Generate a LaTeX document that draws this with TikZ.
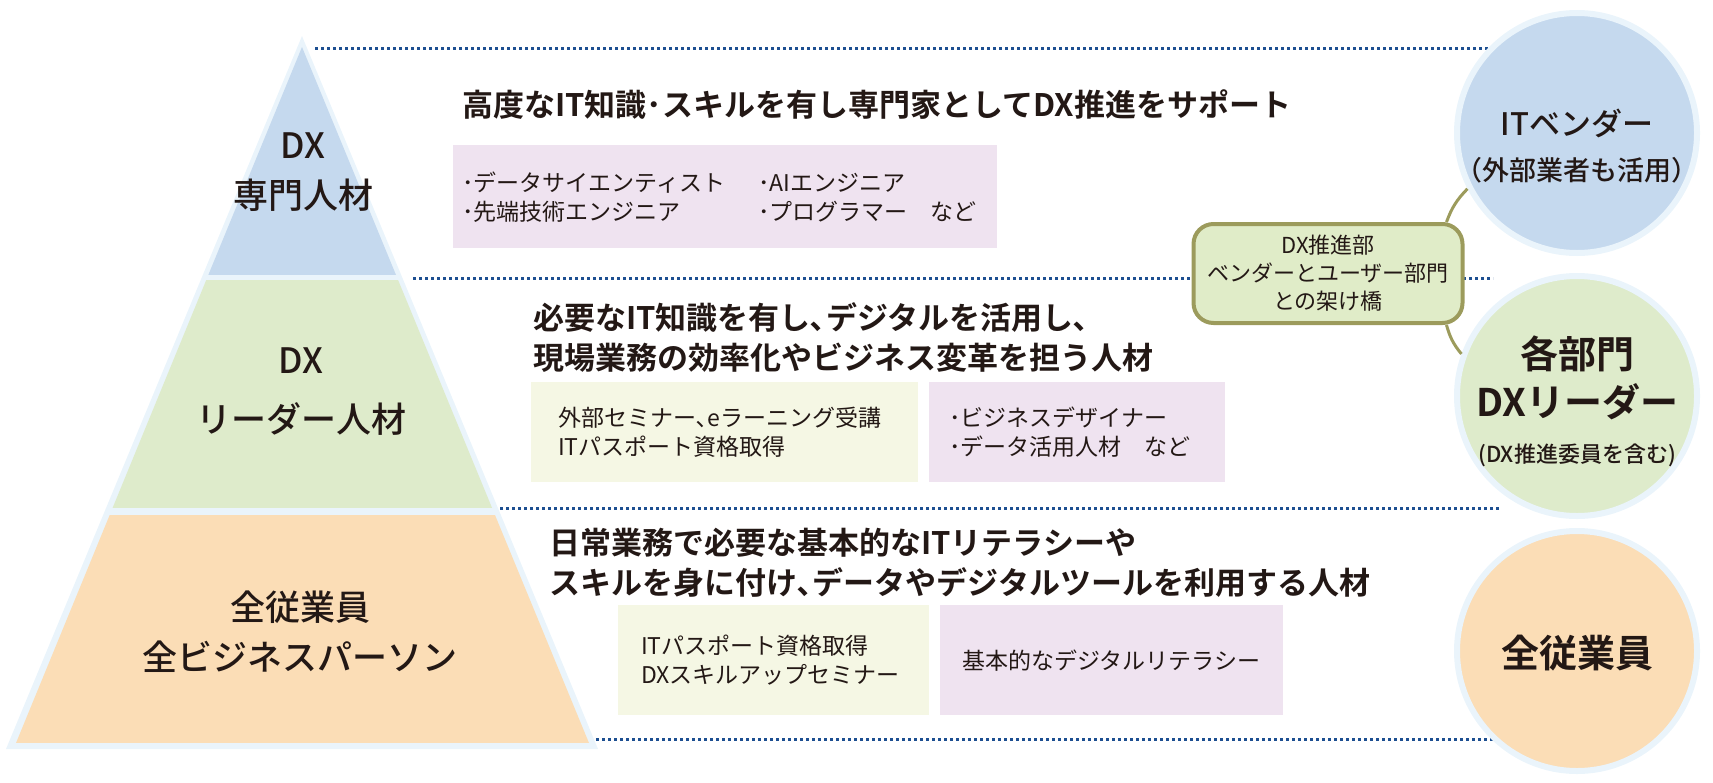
\documentclass[tikz,border=0pt]{standalone}
\usepackage{fontspec}
\setmainfont{Noto Sans CJK JP}[BoldFont={* Bold}]
\newfontfamily\jpmedium{Noto Sans CJK JP Medium}
\usetikzlibrary{positioning}

\definecolor{ink}{HTML}{231815}
\definecolor{halo}{HTML}{EAF4FB}
\definecolor{tierblue}{HTML}{C5D9EE}
\definecolor{tiergreen}{HTML}{DEEBCB}
\definecolor{tierorange}{HTML}{FBDDB6}
\definecolor{boxpink}{HTML}{EFE3F0}
\definecolor{boxlime}{HTML}{F5F7E4}
\definecolor{guideblue}{HTML}{1D4F91}
\definecolor{olive}{HTML}{9C9B5C}
\definecolor{bridgefill}{HTML}{E0ECC8}

\tikzset{
  guide/.style={draw=guideblue, line width=3pt, dash pattern=on 3.4pt off 2.6pt},
  tierlabel/.style={font=\jpmedium\fontsize{35}{50}\selectfont, align=center, inner sep=0pt},
  headline/.style={font=\bfseries\fontsize{31}{40}\selectfont, align=left, anchor=west, inner sep=0pt},
  itembox/.style={fill=#1, anchor=north west, inner sep=0pt},
  itemtext/.style={font=\fontsize{23}{29}\selectfont, align=left, anchor=west, inner sep=0pt},
  rolecircle/.style={circle, fill=#1, draw=halo, line width=6pt, minimum size=240pt, inner sep=0pt},
  roletext/.style={inner sep=0pt, align=center},
  bridgebox/.style={draw=olive, fill=bridgefill, line width=4pt, rounded corners=20pt,
    minimum width=269pt, minimum height=99pt, align=center, font=\fontsize{22}{28}\selectfont},
  bridgelink/.style={draw=olive, line width=3pt},
}

\begin{document}
\begin{tikzpicture}[x=1pt, y=-1pt, every node/.style={text=ink}]
\useasboundingbox (0,0) rectangle (1713,782);

% linee guida
\foreach \xs/\xe/\y in {315/1491/48, 413/1493/278, 500/1500/508, 596/1495/739}
  \draw[guide] (\xs,\y) -- (\xe,\y);

% piramide
\coordinate (apex) at (302,47);
\coordinate (baseL) at (16,743);
\coordinate (baseR) at (589,743);
\fill[halo] (302,36) -- (6,749) -- (598,749) -- cycle;
\begin{scope}
  \clip (apex) -- (baseL) -- (baseR) -- cycle;
  \fill[tierblue] (0,40) rectangle (600,275);
  \fill[tiergreen] (0,280) rectangle (600,508);
  \fill[tierorange] (0,515) rectangle (600,743);
\end{scope}

\node[tierlabel] (expert) at (303,172) {DX\\専門人材};
\node[tierlabel] (leadtier) at (301,392) {DX\\[9pt]リーダー人材};
\node[tierlabel] (alltier) at (300,632) {全従業員\\全ビジネスパーソン};

% testi principali
\node[headline] (experthead) at (462,105) {高度なIT知識･スキルを有し専門家としてDX推進をサポート};
\node[headline] (leadhead) at (533,338) {必要なIT知識を有し､デジタルを活用し､\\現場業務の効率化やビジネス変革を担う人材};
\node[headline] (allhead) at (549,563) {日常業務で必要な基本的なITリテラシーや\\スキルを身に付け､データやデジタルツールを利用する人材};

% riquadri
\node[itembox=boxpink, minimum width=544pt, minimum height=103pt] (expertjobs) at (453,145) {};
\node[itemtext, xshift=9pt] at (expertjobs.west)
  {\makebox[296pt][l]{･データサイエンティスト}･AIエンジニア\\
   \makebox[296pt][l]{･先端技術エンジニア}･プログラマー　など};

\node[itembox=boxlime, minimum width=387pt, minimum height=100pt] (leadstudy) at (531,382) {};
\node[itemtext, xshift=27pt] at (leadstudy.west) {外部セミナー､eラーニング受講\\ITパスポート資格取得};

\node[itembox=boxpink, minimum width=296pt, minimum height=100pt] (leadjobs) at (929,382) {};
\node[itemtext, xshift=20pt] at (leadjobs.west) {･ビジネスデザイナー\\･データ活用人材　など};

\node[itembox=boxlime, minimum width=311pt, minimum height=110pt] (allstudy) at (618,605) {};
\node[itemtext, xshift=23pt] at (allstudy.west) {ITパスポート資格取得\\DXスキルアップセミナー};

\node[itembox=boxpink, minimum width=343pt, minimum height=110pt] (alljobs) at (940,605) {};
\node[itemtext, xshift=22pt] at (alljobs.west) {基本的なデジタルリテラシー};

% cerchi
\node[rolecircle=tierblue] (vendor) at (1577,133) {};
\node[rolecircle=tiergreen] (leader) at (1577,396) {};
\node[rolecircle=tierorange] (staff) at (1577,651) {};

\node[roletext, font=\jpmedium\fontsize{31}{36}\selectfont] (vendorname) at (1577,123) {ITベンダー};
\node[roletext, font=\jpmedium\fontsize{27}{32}\selectfont] (vendornote) at (1577,170) {（外部業者も活用）};
\node[roletext, font=\bfseries\fontsize{38}{44}\selectfont] (leadername) at (1577,354) {各部門};
\node[roletext, font=\bfseries\fontsize{38}{44}\selectfont] (leaderrole) at (1577,402) {DXリーダー};
\node[roletext, font=\jpmedium\fontsize{22}{26}\selectfont] (leadernote) at (1577,455) {(DX推進委員を含む)};
\node[roletext, font=\bfseries\fontsize{38}{44}\selectfont] (staffname) at (1577,653) {全従業員};

% ponte
\node[bridgebox] (bridge) at (1328,273.5) {DX推進部\\ベンダーとユーザー部門\\との架け橋};
\draw[bridgelink] ([xshift=-18pt]bridge.north east) to[bend left=12] (vendor.207);
\draw[bridgelink] ([xshift=-18pt]bridge.south east) to[bend right=12] (leader.160);

\end{tikzpicture}
\end{document}
